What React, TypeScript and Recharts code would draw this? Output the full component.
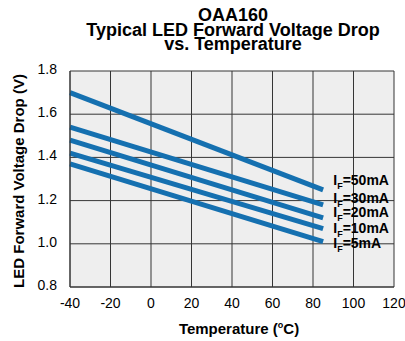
import React from 'react';
import { LineChart, Line, XAxis, YAxis, CartesianGrid, ReferenceDot } from 'recharts';

const temps = [-40, 85];
const if50 = [1.70, 1.25];
const if30 = [1.54, 1.18];
const if20 = [1.48, 1.12];
const if10 = [1.42, 1.07];
const if5 = [1.37, 1.01];

const xTicks = [-40, -20, 0, 20, 40, 60, 80, 100, 120];
const yTicks = [0.8, 1.0, 1.2, 1.4, 1.6, 1.8];

const labelNames = ['=50mA', '=30mA', '=20mA', '=10mA', '=5mA'];
const labelTemp = 90;
const labelVolts = [1.295, 1.213, 1.147, 1.075, 1.004];

const seriesKeys = ['if50', 'if30', 'if20', 'if10', 'if5'];
const data = temps.map((t, i) => ({
  t,
  if50: if50[i],
  if30: if30[i],
  if20: if20[i],
  if10: if10[i],
  if5: if5[i],
}));

const FONT = '"Liberation Sans", Arial, Helvetica, sans-serif';
const LINE_COLOR = '#1570b0';

const IfLabel = (props: any) => {
  const { cx, cy, name } = props;
  return (
    <text x={cx} y={cy + 5} fontSize={14} fontWeight="bold" fill="#000" fontFamily={FONT}>
      <tspan>I</tspan>
      <tspan fontSize={9} dy={4}>F</tspan>
      <tspan dy={-4}>{name}</tspan>
    </text>
  );
};

export default function App() {
  return (
    <div style={{ position: 'absolute', left: 0, top: 0, width: 405, height: 341, background: '#fff', fontFamily: FONT }}>
      <div
        style={{
          position: 'absolute',
          left: 0,
          width: 466,
          top: 8.2,
          textAlign: 'center',
          fontWeight: 'bold',
          fontSize: 18,
          lineHeight: '14.5px',
          color: '#000',
        }}
      >
        <div>OAA160</div>
        <div>Typical LED Forward Voltage Drop</div>
        <div>vs. Temperature</div>
      </div>
      <LineChart
        width={405}
        height={341}
        data={data}
        margin={{ top: 71, right: 11, left: 0, bottom: 0 }}
        style={{ fontFamily: FONT }}
      >
        <CartesianGrid fill="#eeeeee" stroke="#353535" strokeWidth={1} horizontalValues={yTicks} verticalValues={xTicks} />
        <XAxis
          dataKey="t"
          type="number"
          domain={[-40, 120]}
          ticks={xTicks}
          interval={0}
          height={54}
          tickLine={false}
          tickSize={0}
          tickMargin={11}
          axisLine={{ stroke: '#353535' }}
          tick={{ fontSize: 14, fill: '#000' }}
          label={{
            content: () => (
              <text x={239} y={334} textAnchor="middle" fontSize={15} fontWeight="bold" fill="#000" fontFamily={FONT}>
                <tspan>Temperature (</tspan>
                <tspan fontSize={9} dy={-6}>o</tspan>
                <tspan dy={6}>C)</tspan>
              </text>
            ),
          }}
        />
        <YAxis
          type="number"
          domain={[0.8, 1.8]}
          ticks={yTicks}
          interval={0}
          width={70}
          tickLine={false}
          tickSize={0}
          tickMargin={13}
          axisLine={{ stroke: '#353535' }}
          tickFormatter={(v: number) => v.toFixed(1)}
          tick={{ fontSize: 14, fill: '#000', dy: -2 }}
          label={{
            content: () => (
              <text
                transform="translate(23.5,181) rotate(-90)"
                textAnchor="middle"
                fontSize={15}
                fontWeight="bold"
                fill="#000"
                fontFamily={FONT}
              >
                LED Forward Voltage Drop (V)
              </text>
            ),
          }}
        />
        {seriesKeys.map((k) => (
          <Line
            key={k}
            dataKey={k}
            stroke={LINE_COLOR}
            strokeWidth={5}
            dot={false}
            activeDot={false}
            isAnimationActive={false}
          />
        ))}
        {labelNames.map((n, i) => (
          <ReferenceDot
            key={n}
            x={labelTemp}
            y={labelVolts[i]}
            r={0}
            ifOverflow="visible"
            shape={(p: any) => <IfLabel {...p} name={n} />}
          />
        ))}
      </LineChart>
    </div>
  );
}
